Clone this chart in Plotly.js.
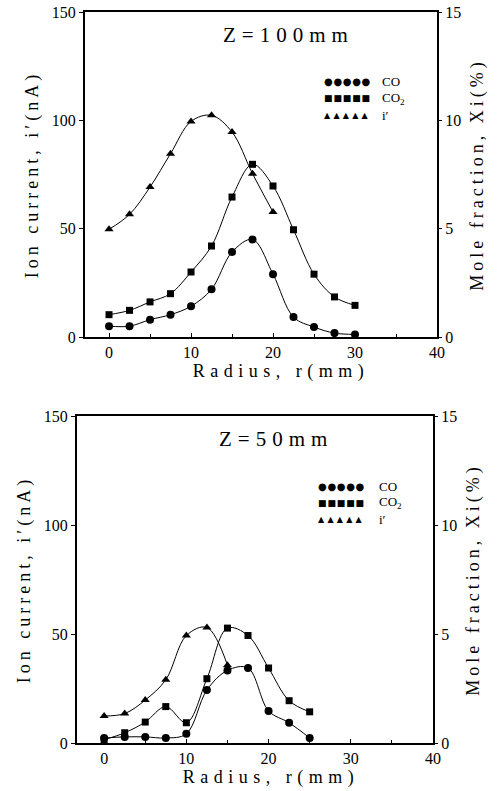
<!DOCTYPE html>
<html>
<head>
<meta charset="utf-8">
<script src="https://cdn.plot.ly/plotly-3.0.1.min.js"></script>
<style>
  html, body { margin: 0; padding: 0; background: #fff; }
  #chart { width: 497px; height: 791px; }
  #chart .ytitle, #chart .y2title, #chart .y3title, #chart .y4title { letter-spacing: 4px; }
  #chart .xtitle, #chart .x2title { letter-spacing: 5.5px; }
</style>
</head>
<body>
<div id="chart"></div>
<script>
// ---- data ----
// Z = 100 mm
const radiusTop = [0, 2.5, 5, 7.5, 10, 12.5, 15, 17.5, 20, 22.5, 25, 27.5, 30];
const coTop  = [0.50, 0.50, 0.80, 1.03, 1.42, 2.20, 3.92, 4.50, 2.90, 0.92, 0.46, 0.18, 0.12]; // mole fraction %
const co2Top = [1.03, 1.23, 1.62, 2.00, 3.00, 4.20, 6.46, 7.97, 6.97, 4.95, 2.90, 1.85, 1.46]; // mole fraction %
const radiusTopI = [0, 2.5, 5, 7.5, 10, 12.5, 15, 17.5, 20];
const ionTop = [49.7, 56.6, 69.2, 84.6, 99.5, 102.3, 94.6, 75.4, 57.7]; // nA

// Z = 50 mm
const radiusBot = [0, 2.5, 5, 7.5, 10, 12.5, 15, 17.5, 20, 22.5, 25];
const coBot  = [0.23, 0.28, 0.28, 0.23, 0.42, 2.43, 3.33, 3.44, 1.47, 0.93, 0.23];
const co2Bot = [0.15, 0.47, 0.96, 1.67, 0.93, 2.95, 5.27, 4.93, 3.44, 1.94, 1.43];
const radiusBotI = [0, 2.5, 5, 7.5, 10, 12.5, 15];
const ionBot = [12.4, 13.5, 19.7, 29.0, 49.3, 53.0, 35.7];

const leftTicks = [0, 50, 100, 150];
const rightTicks = [0, 5, 10, 15];
const xTicks = [0, 10, 20, 30, 40];
const titles = ['Z=100mm', 'Z=50mm'];
const seriesNames = ['CO', 'CO<sub>2</sub>', 'i′'];
const legendSymbols = ['●●●●●', '■■■■■', '▲▲▲▲▲'];

// ---- styles ----
const FONT = 'Liberation Serif, Times New Roman, serif';
const lineStyle = {color: '#000', width: 1, shape: 'spline', smoothing: 1};
function mk(sym, size) { return {symbol: sym, size: size, color: '#000'}; }

function series(x, y, xa, ya, sym, size, name) {
  return {x: x, y: y, xaxis: xa, yaxis: ya, type: 'scatter', mode: 'lines+markers',
          line: lineStyle, marker: mk(sym, size), name: name, showlegend: false,
          hoverinfo: 'x+y'};
}

const data = [
  series(radiusTop, coTop, 'x', 'y2', 'circle', 8, 'CO'),
  series(radiusTop, co2Top, 'x', 'y2', 'square', 7, 'CO2'),
  series(radiusTopI, ionTop, 'x', 'y', 'triangle-up', 8, 'i′'),
  series(radiusBot, coBot, 'x2', 'y4', 'circle', 8, 'CO'),
  series(radiusBot, co2Bot, 'x2', 'y4', 'square', 7, 'CO2'),
  series(radiusBotI, ionBot, 'x2', 'y3', 'triangle-up', 8, 'i′'),
];

const tickFont = {family: FONT, size: 16, color: '#000'};
const titleFont = {family: FONT, size: 18, color: '#000'};

function xAxis(domain, range, anchor) {
  return {domain: domain, range: range, anchor: anchor, tickvals: xTicks,
    ticks: 'inside', ticklen: 4, tickwidth: 1, tickcolor: '#000',
    minor: {dtick: 5, tick0: 0, ticks: 'inside', ticklen: 3, tickcolor: '#000'},
    showline: true, mirror: true, linewidth: 2, linecolor: '#000',
    showgrid: false, zeroline: false, tickfont: tickFont,
    title: {text: 'Radius, r(mm)', font: titleFont, standoff: 0}};
}
function yLeft(domain, anchor) {
  return {domain: domain, range: [0, 150], anchor: anchor, tickvals: leftTicks,
    ticks: 'outside', ticklen: 4, tickcolor: '#000',
    showline: true, linewidth: 2, linecolor: '#000', showgrid: false, zeroline: false,
    tickfont: tickFont, title: {text: 'Ion current, i′(nA)', font: titleFont, standoff: 8}};
}
function yRight(overlay, anchor) {
  return {overlaying: overlay, side: 'right', anchor: anchor, range: [0, 15], tickvals: rightTicks,
    ticks: 'outside', ticklen: 3, tickcolor: '#000',
    showline: true, linewidth: 2, linecolor: '#000', showgrid: false, zeroline: false,
    tickfont: tickFont, title: {text: 'Mole fraction, Xi(%)', font: titleFont, standoff: 10}};
}

const annotations = [];
function addPanel(xref, yref, titleText, titleX, symX, labX) {
  annotations.push({xref: xref + ' domain', yref: yref + ' domain', x: titleX, y: 0.93,
    text: titleText, showarrow: false, font: {family: FONT, size: 21, color: '#000'},
    xanchor: 'center', yanchor: 'middle'});
  const symSizes = [10, 9, 8];
  for (let i = 0; i < 3; i++) {
    const yy = 0.785 - i * 0.051;
    annotations.push({xref: xref + ' domain', yref: yref + ' domain', x: symX, y: yy,
      text: legendSymbols[i], showarrow: false, xanchor: 'left', yanchor: 'middle',
      font: {family: 'DejaVu Sans', size: symSizes[i], color: '#000'}});
    annotations.push({xref: xref + ' domain', yref: yref + ' domain', x: labX, y: yy,
      text: seriesNames[i], showarrow: false, xanchor: 'left', yanchor: 'middle',
      font: {family: FONT, size: 13, color: '#000'}});
  }
}
addPanel('x', 'y', titles[0], 0.57, 0.672, 0.838);
addPanel('x2', 'y3', titles[1], 0.55, 0.672, 0.843);

const layout = {
  width: 497, height: 791, margin: {l: 0, r: 0, t: 0, b: 0},
  paper_bgcolor: '#fff', plot_bgcolor: '#fff', showlegend: false,
  xaxis: xAxis([85/497, 437/497], [-2.93, 40], 'y'),
  yaxis: yLeft([1 - 337/791, 1 - 12/791], 'x'),
  yaxis2: yRight('y', 'x'),
  xaxis2: xAxis([77/497, 433/497], [-3.3, 40], 'y3'),
  yaxis3: yLeft([1 - 743/791, 1 - 416/791], 'x2'),
  yaxis4: yRight('y3', 'x2'),
  annotations: annotations
};

Plotly.newPlot('chart', data, layout, {displayModeBar: false, staticPlot: true}).then(function () {
  // Z titles: wider tracking, keep centred
  document.querySelectorAll('#chart .annotation-text').forEach(function (t) {
    const txt = t.textContent;
    if (/^Z=/.test(txt)) {
      t.style.letterSpacing = '6px';
      t.setAttribute('x', parseFloat(t.getAttribute('x') || 0) + 3);
    } else if (legendSymbols.indexOf(txt) >= 0) {
      // spread the legend symbols to the reference pitch, keeping the left edge fixed
      const before = t.getBBox();
      const charW = t.getComputedTextLength() / 5;
      t.style.letterSpacing = Math.max(0, 9.4 - charW).toFixed(2) + 'px';
      const after = t.getBBox();
      t.setAttribute('x', parseFloat(t.getAttribute('x') || 0) + (before.x - after.x));
    }
  });
  // axis title "Radius, r(mm)" sits right of the frame centre in the reference
  [['.xtitle', 20], ['.x2title', 16]].forEach(function (p) {
    const el = document.querySelector('#chart ' + p[0]);
    if (el) el.setAttribute('x', parseFloat(el.getAttribute('x')) + p[1]);
  });
});
</script>
</body>
</html>
